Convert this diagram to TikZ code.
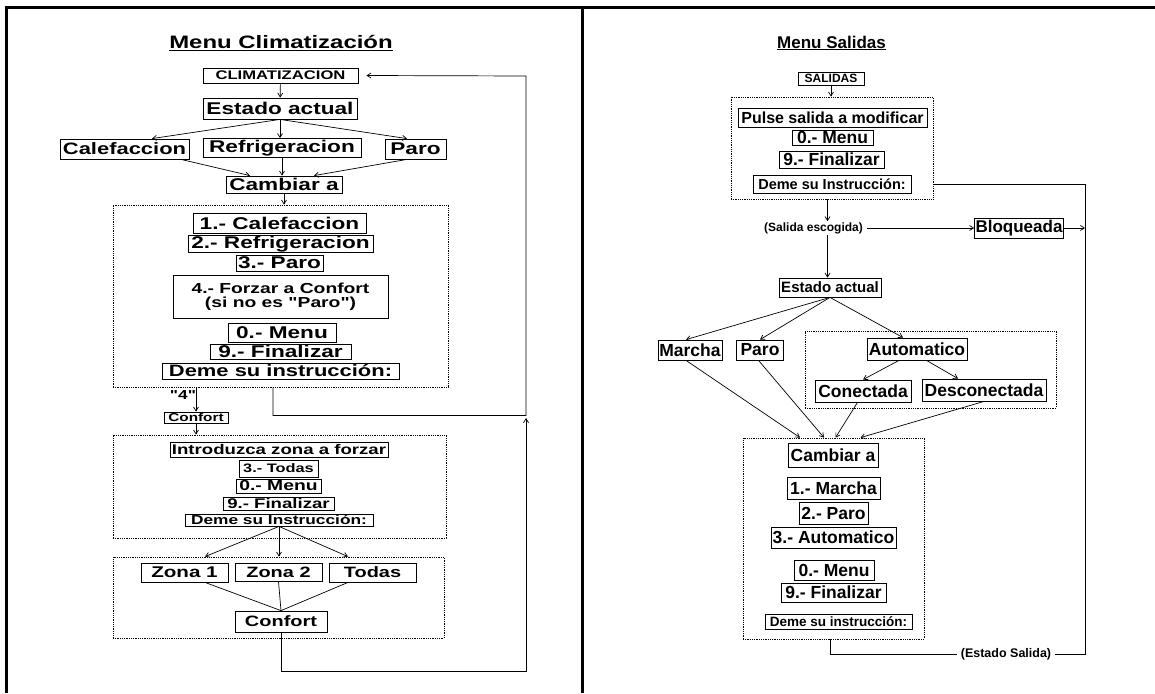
\documentclass[tikz,border=0pt]{standalone}
\usepackage{fontspec}
\setmainfont{Liberation Sans}
\newfontfamily\wideface[FakeStretch=1.33]{Liberation Sans}
\usetikzlibrary{arrows.meta,positioning,fit}
\newcommand\fpx[1]{\fontsize{#1}{#1}\selectfont}
\tikzset{
  % plain box
  bx/.style={draw,line width=0.8pt,inner xsep=1pt,inner ysep=0.3pt,align=center},
  % left panel font (wide) / right panel font
  wL/.style={font=\wideface\bfseries\fpx{#1}},
  wR/.style={font=\bfseries\fpx{#1}},
  % dotted group frame
  grp/.style={draw,densely dotted,line width=0.8pt,inner sep=0pt},
  % connectors
  arr/.style={-{Straight Barb[length=4pt,width=5pt]},line width=0.7pt},
  ln/.style={line width=0.7pt},
  % free label
  lbl/.style={inner xsep=3.5pt,inner ysep=1pt,font=\bfseries\fpx{#1}}
}
\begin{document}
\begin{tikzpicture}[x=1pt,y=-1pt]
  \useasboundingbox (0,0) rectangle (1155,693);
  % frame
  \draw[line width=2.5pt] (1155,7.5) -- (6.5,7.5) -- (6.5,693);
  \draw[line width=2.5pt] (582.5,7.5) -- (582.5,693);

  % --- Menu Climatizacion ---
  \node[wL=18] (titA) at (281,43) {\underline{Menu Climatización}};
  \node[bx,wL=12.5,minimum width=155,minimum height=15] (climA) at (280.5,75.5) {CLIMATIZACION};
  \node[bx,wL=17,minimum width=154,minimum height=21] (estA) at (280,108.5) {Estado actual};
  \node[bx,wL=16.5,minimum width=129,minimum height=20] (calA) at (124.5,149) {Calefaccion};
  \node[bx,wL=17,minimum width=158,minimum height=19] (refA) at (282,148) {Refrigeracion};
  \node[bx,wL=17,minimum width=61,minimum height=20] (parA) at (415.5,149) {Paro};
  \node[bx,wL=17,minimum width=116,minimum height=17] (camA) at (284,184.5) {Cambiar a};

  \node[grp,minimum width=335,minimum height=182] (menuA) at (280.5,296) {};
  \node[bx,wL=17,minimum width=173,minimum height=20] (opt1A) at (279.5,223) {1.- Calefaccion};
  \node[bx,wL=17,minimum width=185,minimum height=16] (opt2A) at (280.5,244) {2.- Refrigeracion};
  \node[bx,wL=17,minimum width=87,minimum height=16] (opt3A) at (279.5,263) {3.- Paro};
  \node[bx,wL=14.5,minimum width=215,minimum height=43] (opt4A) at (280.5,296.5) {4.- Forzar a Confort\\(si no es "Paro")};
  \node[bx,wL=17,minimum width=108,minimum height=19] (opt0A) at (282,332.5) {0.- Menu};
  \node[bx,wL=17,minimum width=141,minimum height=15] (opt9A) at (280.5,351.5) {9.- Finalizar};
  \node[bx,wL=16.5,minimum width=237,minimum height=16] (demeA) at (280.5,371) {Deme su instrucción:};

  \node[wL=13,inner sep=0pt] (cuatroA) at (183,395) {"4"};
  \node[bx,wL=11.5,minimum width=64,minimum height=11,inner sep=0.5pt] (confA) at (196,417.5) {Confort};

  \node[grp,minimum width=333,minimum height=103] (zonaA) at (279.5,486.5) {};
  \node[bx,wL=14,minimum width=218,minimum height=15] (introA) at (279,449.5) {Introduzca zona a forzar};
  \node[bx,wL=12.3,minimum width=79,minimum height=17] (todA) at (278.5,468.5) {3.- Todas};
  \node[bx,wL=14.5,minimum width=85,minimum height=14] (men2A) at (278.5,486) {0.- Menu};
  \node[bx,wL=14,minimum width=111,minimum height=13] (fin2A) at (278.5,503.5) {9.- Finalizar};
  \node[bx,wL=13,minimum width=188,minimum height=12] (deme2A) at (279,520) {Deme su Instrucción:};

  \node[grp,minimum width=331,minimum height=81] (zbA) at (278.5,597.5) {};
  \node[bx,wL=15.5,minimum width=87,minimum height=19] (z1A) at (184.5,572.5) {Zona 1};
  \node[bx,wL=15,minimum width=87,minimum height=18] (z2A) at (278.5,572) {Zona 2};
  \node[bx,wL=15,minimum width=87,minimum height=19] (todasA) at (372.5,572.5) {Todas};
  \node[bx,wL=15,minimum width=92,minimum height=21] (conf2A) at (281,621.5) {Confort};

  \coordinate (turnA) at (526,76);
  \coordinate (retA) at (526,418);

  \draw[arr] (climA) -- (estA);
  \draw[arr] (estA.south) -- ([xshift=27.5pt]calA.north);
  \draw[arr] (estA.south) -- (estA.south |- refA.north);
  \draw[arr] (estA.south) -- ([xshift=-8.5pt]parA.north);
  \draw[arr] ([xshift=56.5pt]calA.south) -- ([xshift=-34pt]camA.north);
  \draw[arr] (refA.south) -- (refA.south |- camA.north);
  \draw[arr] ([xshift=-8.5pt]parA.south) -- ([xshift=30pt]camA.north);
  \draw[arr] (camA.south) -- (camA.south |- menuA.north);
  \draw[arr] (confA.north |- menuA.south) -- (confA.north);
  \draw[arr] (confA.south) -- (confA.south |- zonaA.north);
  \draw[arr] (deme2A.south) -- ([xshift=-73.5pt]zbA.north);
  \draw[arr] (deme2A.south) -- (deme2A.south |- zbA.north);
  \draw[arr] (deme2A.south) -- ([xshift=69.5pt]zbA.north);
  \draw[ln] ([xshift=20.5pt]z1A.south) -- (conf2A.north);
  \draw[ln] (z2A.south) -- (conf2A.north);
  \draw[ln] ([xshift=-24.5pt]todasA.south) -- (conf2A.north);
  % return loops
  \draw[arr] ([xshift=-7.5pt]menuA.south) -- ++(0,28) -| (turnA) -- ([xshift=8pt]climA.east);
  \draw[arr] (conf2A.south) -- ++(0,39) -| (retA);

  % --- Menu Salidas ---
  \node[wR=17] (titB) at (831.5,43) {\underline{Menu Salidas}};
  \node[bx,wR=12,minimum width=66,minimum height=13] (salB) at (831,78.5) {SALIDAS};
  \node[grp,minimum width=202,minimum height=102] (pulGrp) at (832,148) {};
  \node[bx,wR=16,minimum width=189,minimum height=19] (pulB) at (832.5,117.5) {Pulse salida a modificar};
  \node[bx,wR=17.5,minimum width=81,minimum height=15] (men0B) at (832.5,137.5) {0.- Menu};
  \node[bx,wR=17.5,minimum width=105,minimum height=17] (fin9B) at (831.5,159.5) {9.- Finalizar};
  \node[bx,wR=14.5,minimum width=158,minimum height=18] (demeB) at (832,184) {Deme su Instrucción:};
  \node[lbl=12] (escB) at (813.5,228) {(Salida escogida)};
  \node[bx,wR=17,minimum width=82,minimum height=20] (bloqB) at (1019,228) {Bloqueada};
  \node[bx,wR=15,minimum width=102,minimum height=19] (estB) at (830,287.5) {Estado actual};
  \node[bx,wR=17.5,minimum width=64,minimum height=20] (marB) at (690,350) {Marcha};
  \node[bx,wR=17.5,minimum width=47,minimum height=20] (parB) at (760,350) {Paro};
  \node[grp,minimum width=251,minimum height=77] (autoGrp) at (930.5,369.5) {};
  \node[bx,wR=17.5,minimum width=100,minimum height=22] (autoB) at (917,349) {Automatico};
  \node[bx,wR=17.5,minimum width=96,minimum height=22] (conB) at (863,391) {Conectada};
  \node[bx,wR=17.5,minimum width=124,minimum height=22] (desB) at (984,390) {Desconectada};
  \node[grp,minimum width=181,minimum height=201] (camGrp) at (833.5,538.5) {};
  \node[bx,wR=17.5,minimum width=90,minimum height=24] (camB) at (833,455) {Cambiar a};
  \node[bx,wR=17.5,minimum width=93,minimum height=22] (m1B) at (833.5,488) {1.- Marcha};
  \node[bx,wR=17.5,minimum width=69,minimum height=22] (m2B) at (833.5,513) {2.- Paro};
  \node[bx,wR=17.5,minimum width=125,minimum height=21] (m3B) at (833.5,537.5) {3.- Automatico};
  \node[bx,wR=17.5,minimum width=80,minimum height=20] (m0B) at (834,570) {0.- Menu};
  \node[bx,wR=17.5,minimum width=105,minimum height=19] (m9B) at (833.5,592.5) {9.- Finalizar};
  \node[bx,wR=13.5,minimum width=147,minimum height=15] (demB2) at (838.5,621.5) {Deme su instrucción:};
  \node[lbl=12.5] (estSalB) at (1006,654) {(Estado Salida)};
  \coordinate (railB) at (1085,654);

  \draw[arr] (salB.south) -- (salB.south |- pulGrp.north);
  \draw[arr] ([xshift=-4.5pt]pulGrp.south) -- ([xshift=-4.5pt]pulGrp.south |- escB.north);
  \draw[arr] (escB.east) -- (bloqB.west);
  \draw[arr] (bloqB.east) -- (bloqB.east -| railB);
  \draw[arr] ([xshift=-4.5pt]pulGrp.south |- escB.south) -- ([xshift=-4.5pt]pulGrp.south |- estB.north);
  \draw[arr] (estB.south) -- ([xshift=-4pt]marB.north);
  \draw[arr] (estB.south) -- (parB.north);
  \draw[arr] (estB.south) -- ([xshift=-14pt]autoB.north);
  \draw[arr] ([xshift=-18pt]autoB.south) -- (conB.north);
  \draw[arr] ([xshift=9.5pt]autoB.south) -- ([xshift=-26pt]desB.north);
  \draw[arr] ([xshift=-4pt]marB.south) -- ([xshift=-33.5pt]camGrp.north);
  \draw[arr] ([xshift=-1.5pt]parB.south) -- ([xshift=-9.5pt]camGrp.north);
  \draw[arr] ([xshift=-5.5pt]conB.south) -- ([xshift=2pt]camGrp.north);
  \draw[arr] (desB.south) -- ([xshift=27pt]camGrp.north);
  % state loop
  \draw[ln] (demeB.east -| pulGrp.east) -- (demeB.east -| railB) -- (railB) -- (estSalB.east);
  \draw[ln] (estSalB.west) -| ([xshift=-3pt]camGrp.south);
\end{tikzpicture}
\end{document}
